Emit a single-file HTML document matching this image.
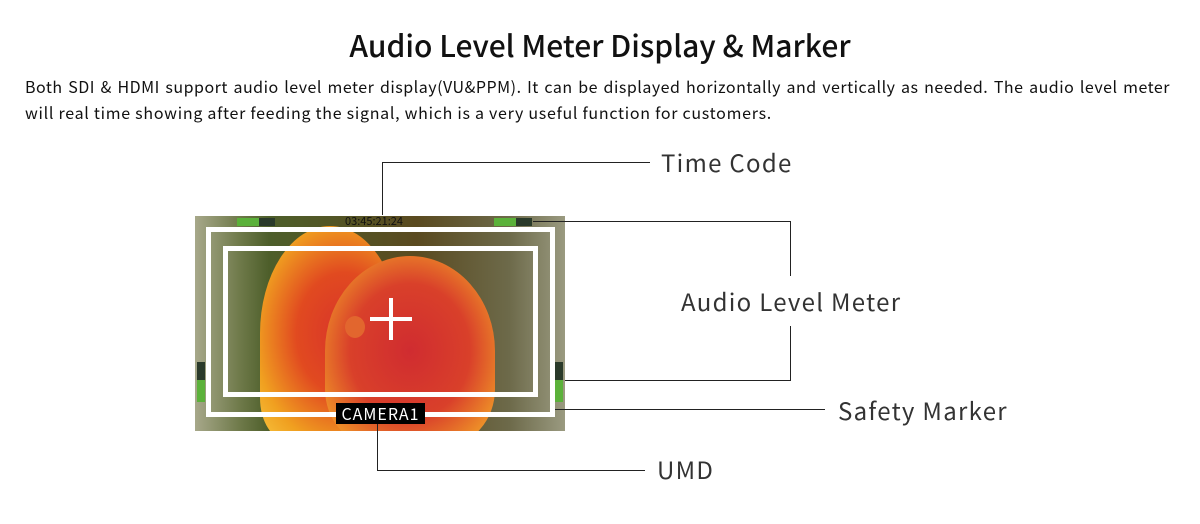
<!DOCTYPE html>
<html><head><meta charset="utf-8"><style>
html,body{margin:0;padding:0;background:#fff;}
body{width:1200px;height:524px;position:relative;overflow:hidden;font-family:"Noto Sans CJK SC","Liberation Sans",sans-serif;color:#111;}
.abs{position:absolute;}
h1{position:absolute;left:0;width:1200px;top:24px;margin:0;text-align:center;font-size:30px;font-weight:500;line-height:40px;}
.p{position:absolute;left:25px;width:1145px;font-size:16px;line-height:26px;white-space:nowrap;letter-spacing:0.72px;}
.lbl{position:absolute;font-size:24px;letter-spacing:1.3px;color:#333;line-height:30px;}
.ln{position:absolute;background:#222;}
</style></head><body>
<h1>Audio Level Meter Display &amp; Marker</h1>
<div class="p" style="top:73px;text-align:justify;text-align-last:justify;letter-spacing:0.5px;">Both SDI &amp; HDMI support audio level meter display(VU&amp;PPM). It can be displayed horizontally and vertically as needed. The audio level meter</div>
<div class="p" style="top:99px;">will real time showing after feeding the signal, which is a very useful function for customers.</div>

<div class="abs" style="left:195px;top:216px;width:370px;height:215px;overflow:hidden;background:linear-gradient(90deg,#a7a88a 0%,#6f7a4a 12%,#4d5e2a 20%,#5a4a20 60%,#6d6a4a 85%,#9a9a80 100%);">
  <div class="abs" style="left:65px;top:10px;width:140px;height:215px;border-radius:50% 50% 20% 20%;background:radial-gradient(ellipse at 60% 50%,#d8342a 0%,#e14a20 40%,#f0a020 75%,#f7c640 100%);"></div>
  <div class="abs" style="left:130px;top:40px;width:170px;height:190px;border-radius:50% 50% 30% 30%;background:radial-gradient(ellipse at 50% 50%,#d02c30 0%,#d9402a 50%,#ec8a28 80%,#f4b030 100%);"></div>
  <div class="abs" style="left:150px;top:100px;width:20px;height:22px;border-radius:50%;background:#e2662e;"></div>
  <div class="abs" style="left:42px;top:2px;width:38px;height:8px;background:#2a3a2a;"><div style="width:22px;height:8px;background:#5bb13a"></div></div>
  <div class="abs" style="left:299px;top:2px;width:38px;height:8px;background:#2a3a2a;"><div style="width:22px;height:8px;background:#5bb13a"></div></div>
  <div class="abs" style="left:2px;top:146px;width:8px;height:40px;background:#2a3a2a;"><div style="position:absolute;bottom:0;width:8px;height:22px;background:#5bb13a"></div></div>
  <div class="abs" style="left:360px;top:146px;width:8px;height:40px;background:#2a3a2a;"><div style="position:absolute;bottom:0;width:8px;height:22px;background:#5bb13a"></div></div>
  <div class="abs" style="left:150px;top:-3px;font-size:11px;color:#111;">03:45:21:24</div>
</div>
<div class="abs" style="left:206px;top:227px;width:339px;height:180px;border:5px solid #fff;"></div>
<div class="abs" style="left:223px;top:246px;width:305px;height:141px;border:5px solid #fff;"></div>
<div class="abs" style="left:370px;top:317px;width:42px;height:4px;background:#fff;"></div>
<div class="abs" style="left:389px;top:298px;width:4px;height:42px;background:#fff;"></div>
<div class="abs" style="left:336px;top:403px;width:89px;height:21px;background:#000;color:#fff;font-size:16px;line-height:21px;text-align:center;letter-spacing:1px;">CAMERA1</div>

<div class="ln" style="left:382px;top:162px;width:1px;height:53px;"></div>
<div class="ln" style="left:382px;top:162px;width:268px;height:1px;"></div>
<div class="ln" style="left:533px;top:221px;width:258px;height:1px;"></div>
<div class="ln" style="left:790px;top:221px;width:1px;height:55px;"></div>
<div class="ln" style="left:790px;top:326px;width:1px;height:55px;"></div>
<div class="ln" style="left:565px;top:380px;width:226px;height:1px;"></div>
<div class="ln" style="left:555px;top:409px;width:270px;height:1px;"></div>
<div class="ln" style="left:377px;top:424px;width:1px;height:46px;"></div>
<div class="ln" style="left:377px;top:470px;width:268px;height:1px;"></div>

<div class="lbl" style="left:661px;top:147px;">Time Code</div>
<div class="lbl" style="left:681px;top:286px;">Audio Level Meter</div>
<div class="lbl" style="left:838px;top:395px;">Safety Marker</div>
<div class="lbl" style="left:657px;top:454px;">UMD</div>
</body></html>
